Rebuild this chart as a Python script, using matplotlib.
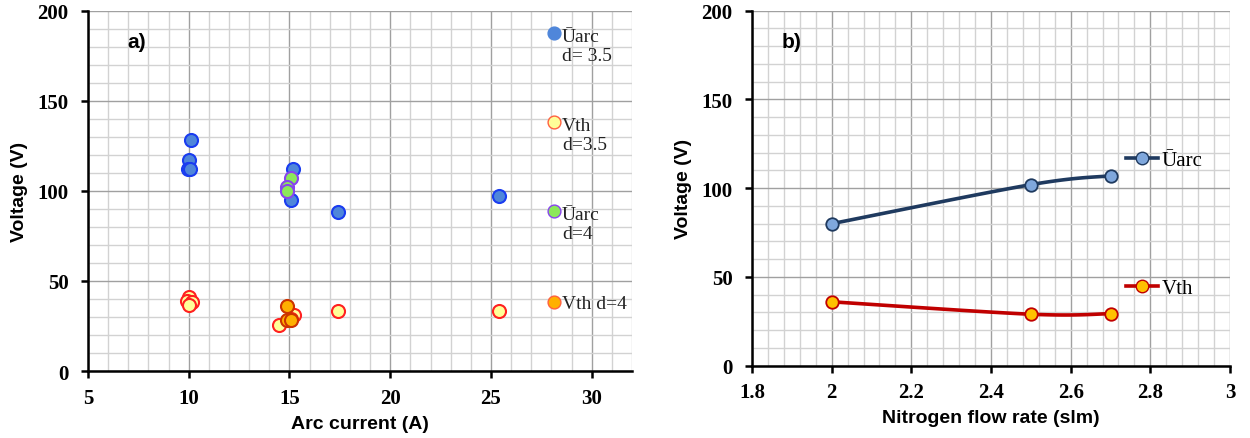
"""
Arc voltage and threshold voltage vs arc current / nitrogen flow rate
"""

import numpy as np
import matplotlib
matplotlib.use('Agg')
import matplotlib.pyplot as plt
from matplotlib.ticker import MultipleLocator
from matplotlib.lines import Line2D
from matplotlib.legend_handler import HandlerPathCollection

# ---- panel a) data: voltage vs arc current ----
uarc35_current = [10.1, 10.0, 9.95, 10.05, 15.15, 15.1, 17.4, 25.4]
uarc35_voltage = [128.5, 117, 112, 112, 112, 95, 88.5, 97]

vth35_current = [10.0, 9.9, 10.15, 10.0, 14.5, 15.2, 15.1, 17.4, 25.4]
vth35_voltage = [41, 39, 38.5, 36.5, 25.5, 31, 29, 33.5, 33.5]

uarc4_current = [15.1, 14.9, 14.9]
uarc4_voltage = [107, 102, 100]

vth4_current = [14.9, 14.9, 15.1]
vth4_voltage = [36, 28.5, 28.5]

# ---- panel b) data: voltage vs nitrogen flow rate ----
flow_rate = [2.0, 2.5, 2.7]
uarc_flow = [80, 102, 107]
vth_flow = [36, 29, 29.3]

SERIF = 'Liberation Serif'
SANS = 'Liberation Sans'


def smooth_curve(x, y, n=40):
    """Excel-like smoothed line (cubic Bezier through the points)"""
    p = np.column_stack([x, y]).astype(float)
    pts = []
    for i in range(len(p) - 1):
        p0 = p[i - 1] if i > 0 else p[i]
        p1, p2 = p[i], p[i + 1]
        p3 = p[i + 2] if i + 2 < len(p) else p[i + 1]
        c1 = p1 + (p2 - p0) / 6.0
        c2 = p2 - (p3 - p1) / 6.0
        t = np.linspace(0, 1, n)[:, None]
        seg = ((1 - t) ** 3) * p1 + 3 * ((1 - t) ** 2) * t * c1 + 3 * (1 - t) * t ** 2 * c2 + t ** 3 * p2
        pts.append(seg)
    pts = np.vstack(pts)
    return pts[:, 0], pts[:, 1]


def style_axes(ax, xmaj, xmin):
    ax.set_ylim(0, 200)
    ax.yaxis.set_major_locator(MultipleLocator(50))
    ax.yaxis.set_minor_locator(MultipleLocator(10))
    ax.xaxis.set_major_locator(MultipleLocator(xmaj))
    ax.xaxis.set_minor_locator(MultipleLocator(xmin))
    ax.grid(which='major', color='#a0a0a0', linewidth=1.0)
    ax.grid(which='minor', color='#d2d2d2', linewidth=1.0)
    ax.set_axisbelow(True)
    for side in ['top', 'right']:
        ax.spines[side].set_visible(False)
    for side in ['left', 'bottom']:
        ax.spines[side].set_linewidth(1.8)
        ax.spines[side].set_color('black')
    ax.tick_params(axis='x', which='major', direction='out', length=5, width=1.8, pad=7)
    ax.tick_params(axis='y', which='major', direction='out', length=5, width=1.8, pad=9)
    ax.tick_params(which='minor', length=0)
    ax.set_ylabel('Voltage (V)', fontsize=14, fontweight='bold', family=SANS, labelpad=7)


def bold_serif_ticks(ax):
    for lab in ax.get_xticklabels() + ax.get_yticklabels():
        lab.set_fontfamily(SERIF)
        lab.set_fontweight('bold')
        lab.set_fontsize(15)


fig = plt.figure(figsize=(12.5, 4.39), dpi=100)

# ---------------- panel a ----------------
ax1 = fig.add_axes([0.0704, 0.1526, 0.4352, 0.8207])
ax1.set_xlim(5, 32)
style_axes(ax1, 5, 1)
ax1.set_xticks(range(5, 31, 5))
bold_serif_ticks(ax1)

ms = 88
ax1.scatter(uarc35_current, uarc35_voltage, s=ms, c='#4F86DA', edgecolors='#1a3cf0', linewidths=1.5, zorder=3)
ax1.scatter(vth35_current, vth35_voltage, s=ms, c='#FFFF99', edgecolors='#FF2020', linewidths=1.5, zorder=3)
ax1.scatter(uarc4_current, uarc4_voltage, s=ms, c='#8CE85A', edgecolors='#8844ee', linewidths=1.5, zorder=4)
ax1.scatter(vth4_current, vth4_voltage, s=ms, c='#FFB000', edgecolors='#CC3300', linewidths=1.5, zorder=4)

ax1.set_xlabel('Arc current (A)', fontsize=14, fontweight='bold', family=SANS, labelpad=5)
ax1.text(7.43, 182.8, 'a)', fontsize=15, fontweight='bold', family=SANS, ha='center', va='center')

# legend proxies (empty scatters)
leg_u35 = ax1.scatter([], [], c='#4F86DA', edgecolors='#4F86DA')
leg_v35 = ax1.scatter([], [], c='#FFFF99', edgecolors='#FF6040')
leg_u4 = ax1.scatter([], [], c='#8CE85A', edgecolors='#8844ee')
leg_v4 = ax1.scatter([], [], c='#FFB000', edgecolors='#FF6040')
two_line = HandlerPathCollection(yoffsets=[1.4], sizes=[85])
one_line = HandlerPathCollection(yoffsets=[0.5], sizes=[85])
leg_a = ax1.legend([leg_u35, leg_v35, leg_u4, leg_v4],
                   ['\u016Aarc\nd= 3.5', 'Vth\nd=3.5', '\u016Aarc\nd=4', 'Vth d=4'],
                   handler_map={leg_u35: two_line, leg_v35: two_line, leg_u4: two_line, leg_v4: one_line},
                   loc='upper left', bbox_to_anchor=(0.83, 0.975),
                   frameon=False, prop={'family': SERIF, 'size': 14},
                   handlelength=0.7, handletextpad=0.05, labelspacing=2.7, borderaxespad=0)
for t in leg_a.get_texts():
    t.set_color('#222222')

# ---------------- panel b ----------------
ax2 = fig.add_axes([0.6016, 0.1647, 0.3824, 0.8086])
ax2.set_xlim(1.8, 3.0)
style_axes(ax2, 0.2, 0.04)
ax2.set_xticks([1.8, 2.0, 2.2, 2.4, 2.6, 2.8, 3.0])
ax2.set_xticklabels(['1.8', '2', '2.2', '2.4', '2.6', '2.8', '3'])
bold_serif_ticks(ax2)

sx, sy = smooth_curve(flow_rate, uarc_flow)
ax2.plot(sx, sy, color='#1F3A5F', lw=2.6, zorder=3)
ax2.plot(flow_rate, uarc_flow, ls='none', marker='o', ms=9, mfc='#7FA7DC', mec='#1F3A5F', mew=1.3, zorder=4)
sx, sy = smooth_curve(flow_rate, vth_flow)
ax2.plot(sx, sy, color='#C00000', lw=2.6, zorder=3)
ax2.plot(flow_rate, vth_flow, ls='none', marker='o', ms=9, mfc='#FFC000', mec='#C00000', mew=1.3, zorder=4)

ax2.set_xlabel('Nitrogen flow rate (slm)', fontsize=14, fontweight='bold', family=SANS, labelpad=5)
ax2.text(1.90, 182.4, 'b)', fontsize=15, fontweight='bold', family=SANS, ha='center', va='center')

handles_b = [
    Line2D([], [], color='#1F3A5F', lw=2.6, marker='o', ms=9, mfc='#7FA7DC', mec='#1F3A5F'),
    Line2D([], [], color='#C00000', lw=2.6, marker='o', ms=9, mfc='#FFC000', mec='#C00000'),
]
leg_b = ax2.legend(handles_b, ['\u016Aarc', 'Vth'], loc='upper left', bbox_to_anchor=(0.765, 0.63),
                   frameon=False, prop={'family': SERIF, 'size': 15},
                   handlelength=1.55, handletextpad=0.15, labelspacing=5.2, borderaxespad=0)

plt.savefig('out.png', dpi=100, facecolor='white')
plt.close()
